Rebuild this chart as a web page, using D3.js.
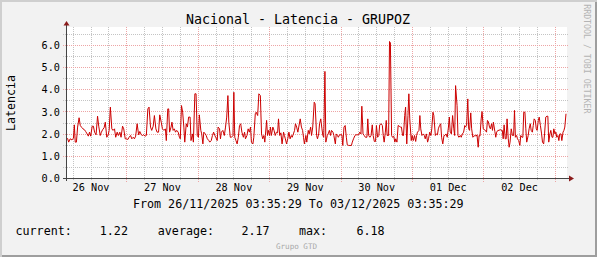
<!DOCTYPE html>
<html lang="en">

<head>
    <meta charset="UTF-8" />
    <title>Nacional - Latencia - GRUPOZ</title>
    <script src="https://d3js.org/d3.v7.min.js"></script>
    <style>
        body { margin: 0; background: #ffffff; }
        svg text { font-family: "DejaVu Sans Mono", monospace; fill: #000; }
    </style>
</head>

<body>
    <script>
        // chart texts
        var title = "Nacional - Latencia - GRUPOZ";
        var yLabel = "Latencia";
        var rangeText = "From 26/11/2025 03:35:29 To 03/12/2025 03:35:29";
        var footer = "Grupo GTD";
        var watermark = "RRDTOOL / TOBI OETIKER";

        // time window
        var startTime = new Date(2025, 10, 26, 3, 35, 29);
        var endTime = new Date(2025, 11, 3, 3, 35, 29);

        // axis labels
        var yTicks = [0, 1, 2, 3, 4, 5, 6];
        var xLabels = ["26 Nov", "27 Nov", "28 Nov", "29 Nov", "30 Nov", "01 Dec", "02 Dec"];

        // legend
        var legendNames = ["current:", "average:", "max:"];
        var legendValues = ["1.22", "2.17", "6.18"];

        // samples: hours after start time, and latency
        var hours = [
            0.5, 0.9, 1.4, 2.0, 2.5, 2.8, 3.1, 3.5, 3.9, 4.4,
            4.8, 5.3, 5.7, 6.2, 6.6, 7.1, 7.5, 7.9, 8.3, 8.8,
            9.2, 9.6, 10.1, 10.6, 11.0, 11.5, 11.9, 12.3, 12.8, 13.2,
            13.7, 14.2, 14.5, 14.9, 15.4, 15.8, 16.3, 16.7, 17.2, 17.6,
            18.1, 18.5, 19.0, 19.4, 19.9, 20.3, 20.8, 21.2, 21.7, 22.1,
            22.6, 23.0, 23.4, 23.9, 24.4, 24.8, 25.3, 25.7, 26.1, 26.6,
            27.0, 27.5, 27.9, 28.4, 28.8, 29.3, 29.7, 30.2, 30.6, 31.1,
            31.5, 32.0, 32.4, 32.9,
            33.4, 33.7, 34.2, 34.5, 34.8, 35.3, 35.6, 36.0, 36.4, 36.8,
            37.2, 37.7, 38.1, 38.4, 38.8, 39.2, 39.6, 39.9, 40.4, 40.8,
            41.2, 41.7, 42.0, 42.5, 42.8, 43.3, 43.7, 44.1, 44.5, 44.8,
            45.3, 45.6, 46.0, 46.3, 46.8, 47.1, 47.5, 48.0, 48.3, 48.8,
            49.2, 49.6, 50.0, 50.3, 50.8, 51.1, 51.6, 51.9, 52.2, 52.7,
            53.2, 53.6, 54.0, 54.4, 54.7, 55.2, 55.6, 56.1, 56.4, 56.7,
            57.1, 57.5, 57.9, 58.3, 58.7, 59.1, 59.6, 60.0, 60.3, 60.8,
            61.2, 61.6, 62.0, 62.3, 62.8, 63.1, 63.6, 63.9, 64.4, 64.8,
            65.3, 65.7, 66.1, 66.5, 66.8,
            67.0, 67.4, 67.7, 68.0, 68.4, 68.7, 69.0, 69.5, 69.9, 70.3,
            70.7, 71.1, 71.4, 71.8, 72.2, 72.6, 73.1, 73.4, 73.7, 74.1,
            74.5, 74.9, 75.3, 75.7, 76.0, 76.4, 76.8, 77.1, 77.5, 77.9,
            78.2, 78.7, 79.1, 79.5, 79.8, 80.1, 80.6, 80.9, 81.4, 81.7,
            82.2, 82.5, 82.9, 83.4, 83.7, 84.2, 84.5, 84.9, 85.2, 85.6,
            86.0, 86.3, 86.6, 87.0, 87.3, 87.8, 88.1, 88.5, 88.9, 89.2,
            89.7, 90.0, 90.5, 90.8, 91.2, 91.5, 91.9, 92.4, 92.7, 93.0,
            93.4, 93.8, 94.2, 94.5, 95.0, 95.4, 95.9, 96.2, 96.6, 97.1,
            97.4, 97.9, 98.3, 98.7, 99.1, 99.4, 99.8, 100.2, 100.6,
            101.1, 101.4, 101.7, 102.1, 102.5, 102.9, 103.2, 103.6, 104.0, 104.3,
            104.7, 105.1, 105.4, 105.9, 106.3, 106.6, 106.9, 107.3, 107.6, 107.9,
            108.4, 108.7, 109.0, 109.4, 109.7, 110.1, 110.5, 110.8, 111.2, 111.6,
            112.0, 112.3, 112.7, 113.1, 113.4, 113.8, 114.1, 114.5, 114.9, 115.2,
            115.5, 116.0, 116.3, 116.7, 117.1, 117.5, 117.8, 118.1, 118.6, 118.9,
            119.2, 119.6, 120.1, 120.4, 120.7, 121.1, 121.5, 121.8, 122.2, 122.6,
            122.9, 123.3, 123.6, 124.1, 124.4, 124.8, 125.1, 125.5, 125.9, 126.2,
            126.6, 127.0, 127.3, 127.7, 128.1, 128.5, 128.8, 129.1, 129.5, 129.9,
            130.3, 130.6, 130.9, 131.4, 131.7, 132.0, 132.5, 132.8, 133.2, 133.6,
            134.0,
            134.2, 134.6, 135.0, 135.3, 135.6, 136.0, 136.3, 136.7, 137.0, 137.5,
            137.8, 138.1, 138.5, 138.8, 139.1, 139.5, 139.8, 140.2, 140.5, 140.9,
            141.3, 141.6, 141.9, 142.3, 142.6, 143.0, 143.3, 143.6, 144.1, 144.4,
            144.7, 145.1, 145.5, 145.9, 146.2, 146.6, 146.9, 147.2, 147.6, 147.9,
            148.2, 148.6, 148.9, 149.2, 149.6, 150.0, 150.4, 150.7, 151.0, 151.4,
            151.7, 152.1, 152.5, 152.8, 153.2, 153.5, 153.8, 154.2, 154.5, 154.8,
            155.3, 155.6, 156.0, 156.3, 156.7, 157.0, 157.3, 157.7, 158.0, 158.3,
            158.7, 159.0, 159.4, 159.8, 160.1, 160.5, 160.8, 161.2, 161.6, 161.9,
            162.2, 162.6, 162.9, 163.3, 163.6, 163.9, 164.3, 164.6, 164.9, 165.3,
            165.6, 165.9, 166.3, 166.6, 167.0, 167.3, 167.6, 168.0
        ];

        var latency = [
            1.82, 1.64, 1.79, 1.74, 1.82, 2.42, 1.64, 1.64, 2.32, 2.74,
            2.39, 2.30, 2.24, 2.20, 2.12, 2.01, 1.91, 2.09, 1.91, 2.36,
            2.36, 2.09, 1.97, 2.81, 2.36, 1.94, 2.09, 2.20, 2.29, 2.54,
            1.86, 1.97, 2.17, 3.22, 2.24, 2.17, 2.24, 1.86, 2.09, 1.94,
            2.09, 1.86, 2.36, 2.24, 1.79, 1.79, 1.76, 1.86, 1.94, 1.79,
            1.86, 1.79, 1.91, 2.47, 1.97, 2.12, 1.97, 1.94, 1.97, 1.91,
            1.94, 3.14, 3.22, 2.32, 2.17, 2.36, 2.84, 2.24, 2.09, 2.09,
            2.87, 2.54, 2.24, 2.17,
            2.24, 1.71, 3.14, 3.14, 2.09, 2.32, 2.54, 2.17, 2.24, 2.09,
            2.17, 2.09, 1.86, 1.79, 3.29, 2.99, 2.32, 1.64, 2.47, 2.32,
            2.77, 2.77, 1.71, 2.01, 1.64, 3.82, 3.82, 1.94, 1.86, 2.87,
            2.17, 2.01, 1.56, 2.09, 2.01, 1.94, 1.79, 1.71, 1.64, 1.71,
            1.94, 2.09, 1.94, 1.86, 1.71, 2.32, 2.24, 1.79, 2.09, 2.17,
            1.94, 2.32, 2.77, 3.74, 2.54, 1.86, 1.86, 1.94, 3.89, 1.86,
            1.71, 1.56, 1.86, 2.39, 2.47, 2.09, 1.86, 2.09, 1.79, 1.94,
            2.24, 2.09, 2.32, 1.64, 1.56, 1.86, 2.92, 2.99, 2.84, 3.82,
            3.74, 2.01, 1.79, 1.94, 1.64,
            1.94, 2.62, 1.94, 2.17, 1.94, 2.32, 1.94, 2.32, 2.17, 1.94,
            2.09, 2.06, 2.69, 1.94, 2.06, 1.56, 2.09, 1.94, 1.79, 1.56,
            1.79, 2.09, 1.79, 1.94, 1.86, 2.01, 2.17, 2.47, 2.32, 2.09,
            2.32, 2.69, 2.32, 2.17, 1.86, 1.56, 1.94, 1.64, 2.17, 2.01,
            2.32, 1.94, 2.32, 3.44, 3.37, 1.94, 1.79, 2.01, 2.47, 2.69,
            2.24, 1.94, 1.86, 4.83, 1.64, 1.94, 2.01, 2.17, 1.94, 2.17,
            2.09, 1.94, 1.56, 2.01, 1.94, 1.86, 1.97, 1.97, 1.97, 1.49,
            2.32, 2.39, 1.86, 1.52, 1.49, 1.49, 1.49, 1.64, 1.79, 1.94,
            1.97, 1.97, 1.97, 2.09, 2.01, 3.26, 2.01, 1.94, 1.86,
            1.86, 2.69, 1.94, 1.86, 1.94, 2.42, 1.94, 1.67, 1.67, 2.39,
            1.86, 1.94, 2.42, 2.47, 2.39, 1.94, 1.64, 2.09, 2.62, 1.94,
            1.94, 6.18, 6.12, 1.94, 1.86, 1.91, 1.64, 1.79, 1.64, 2.39,
            2.36, 2.32, 2.32, 1.94, 1.94, 2.84, 3.22, 1.56, 2.84, 3.82,
            2.69, 1.71, 1.94, 1.71, 1.94, 1.67, 1.94, 2.09, 2.17, 2.84,
            2.24, 1.94, 2.01, 1.94, 1.79, 2.01, 1.64, 1.79, 2.09, 1.94,
            2.24, 2.99, 2.84, 1.94, 2.01, 1.97, 2.24, 2.39, 2.47, 1.86,
            1.56, 1.94, 1.94, 2.01, 1.86, 2.32, 2.77, 2.09, 2.01, 2.84,
            2.24, 1.94, 4.19, 3.29, 1.94, 1.86, 1.94, 1.86, 2.01, 2.09,
            2.39,
            2.32, 2.39, 3.59, 2.24, 2.17, 2.96, 2.24, 1.86, 1.91, 1.94,
            1.91, 1.97, 1.41, 1.94, 1.91, 2.69, 3.02, 2.24, 2.21, 2.17,
            2.09, 2.62, 2.57, 2.32, 2.24, 2.47, 2.17, 2.54, 2.12, 1.86,
            2.09, 2.17, 2.17, 2.21, 2.17, 2.17, 1.79, 2.42, 1.79, 1.79,
            2.69, 1.79, 1.41, 1.64, 2.24, 1.94, 1.94, 3.07, 1.86, 1.94,
            1.79, 1.71, 1.49, 1.94, 1.86, 1.86, 2.99, 2.99, 2.24, 1.64,
            1.94, 2.24, 2.47, 2.17, 2.09, 2.39, 2.69, 2.62, 2.24, 2.17,
            2.62, 2.77, 2.39, 2.01, 1.64, 1.56, 2.01, 2.77, 2.81, 2.81,
            1.64, 2.01, 2.17, 1.86, 1.86, 2.24, 2.01, 2.09, 1.86, 1.94,
            1.71, 2.01, 2.01, 1.71, 2.09, 2.17, 2.32, 2.92
        ];

        var w = 597;
        var h = 257;

        var svg = d3.select("body")
            .append("svg")
            .attr("width", w)
            .attr("height", h);

        // background and shaded frame
        svg.append("rect").attr("width", w).attr("height", h).attr("fill", "#f2f2f2");
        svg.append("path").attr("d", "M0,0H" + w + "V2H2V" + h + "H0Z").attr("fill", "#cfcfcf");
        svg.append("path").attr("d", "M" + w + "," + h + "H2V" + (h - 2) + "H" + (w - 2) + "V2H" + w + "Z").attr("fill", "#9e9e9e");

        var xScale = d3.scaleTime()
            .domain([startTime, endTime])
            .range([66, 566]);

        var yScale = d3.scaleLinear()
            .domain([0, 6.8])
            .range([178.5, 27.74]);

        function crisp(v) { return Math.floor(v) + 0.5; }

        // white canvas
        svg.append("rect")
            .attr("x", 66).attr("y", 27)
            .attr("width", 501).attr("height", 152)
            .attr("fill", "#ffffff");

        var grid = svg.append("g").attr("stroke-dasharray", "1,1").attr("stroke-width", 1);

        // minor vertical grid every 6 hours
        var minorTimes = d3.timeHour.every(6).range(startTime, endTime)
            .filter(function (d) { return d.getHours() !== 0; });
        grid.selectAll(".vminor")
            .data(minorTimes)
            .enter()
            .append("line")
            .attr("x1", function (d) { return crisp(xScale(d)); })
            .attr("x2", function (d) { return crisp(xScale(d)); })
            .attr("y1", 27).attr("y2", 181)
            .attr("stroke", "#c4c4c4");

        // minor horizontal grid
        var minorY = d3.range(0.5, 6.6, 1);
        grid.selectAll(".hminor")
            .data(minorY)
            .enter()
            .append("line")
            .attr("x1", 63).attr("x2", 569)
            .attr("y1", function (d) { return crisp(yScale(d)); })
            .attr("y2", function (d) { return crisp(yScale(d)); })
            .attr("stroke", "#c4c4c4");

        // major vertical grid at midnight
        var dayTimes = d3.timeDay.range(startTime, endTime);
        grid.selectAll(".vmajor")
            .data(dayTimes)
            .enter()
            .append("line")
            .attr("x1", function (d) { return crisp(xScale(d)); })
            .attr("x2", function (d) { return crisp(xScale(d)); })
            .attr("y1", 27).attr("y2", 182)
            .attr("stroke", "#eda5a5");

        // major horizontal grid
        grid.selectAll(".hmajor")
            .data(yTicks)
            .enter()
            .append("line")
            .attr("x1", 63).attr("x2", 569)
            .attr("y1", function (d) { return crisp(yScale(d)); })
            .attr("y2", function (d) { return crisp(yScale(d)); })
            .attr("stroke", "#eda5a5");

        // latency line
        var points = hours.map(function (hr, i) {
            return { t: new Date(startTime.getTime() + hr * 3600000), v: latency[i] };
        });

        var line = d3.line()
            .x(function (d) { return xScale(d.t); })
            .y(function (d) { return yScale(d.v); });

        svg.append("path")
            .datum(points)
            .attr("d", line)
            .attr("fill", "none")
            .attr("stroke", "#cc0000")
            .attr("stroke-width", 1);

        // axes
        svg.append("line")
            .attr("x1", 66.5).attr("x2", 66.5)
            .attr("y1", 181).attr("y2", 24)
            .attr("stroke", "#444444");
        svg.append("line")
            .attr("x1", 63).attr("x2", 570)
            .attr("y1", 178.5).attr("y2", 178.5)
            .attr("stroke", "#444444");

        // arrows
        svg.append("path")
            .attr("d", "M63.5,25.5L66.5,21L69.5,25.5Z")
            .attr("fill", "#8b1c1c");
        svg.append("path")
            .attr("d", "M569,175.5L574,178.5L569,181.5Z")
            .attr("fill", "#8b1c1c");

        // y tick labels
        svg.selectAll(".ylab")
            .data(yTicks)
            .enter()
            .append("text")
            .attr("x", 60)
            .attr("y", function (d) { return yScale(d) + 3.6; })
            .attr("text-anchor", "end")
            .style("font-size", "10.2px")
            .text(function (d) { return d3.format(".1f")(d); });

        // x labels at noon
        svg.selectAll(".xlab")
            .data(xLabels)
            .enter()
            .append("text")
            .attr("x", function (d, i) { return xScale(new Date(2025, 10, 26 + i, 12, 0, 0)); })
            .attr("y", 191)
            .attr("text-anchor", "middle")
            .style("font-size", "10.2px")
            .text(function (d) { return d; });

        // title
        svg.append("text")
            .attr("x", 298)
            .attr("y", 23.5)
            .attr("text-anchor", "middle")
            .style("font-size", "13.3px")
            .text(title);

        // y axis title
        svg.append("text")
            .attr("transform", "translate(15.2,103) rotate(-90)")
            .attr("text-anchor", "middle")
            .style("font-size", "11.6px")
            .text(yLabel);

        // period
        svg.append("text")
            .attr("x", 298.3)
            .attr("y", 207.5)
            .attr("text-anchor", "middle")
            .style("font-size", "11.7px")
            .text(rangeText);

        // legend
        var nameX = [15.5, 157.8, 299];
        var valueX = [99.8, 241.4, 356.4];
        legendNames.forEach(function (name, i) {
            svg.append("text")
                .attr("x", nameX[i]).attr("y", 235.3)
                .style("font-size", "11.7px")
                .text(name);
            svg.append("text")
                .attr("x", valueX[i]).attr("y", 235.3)
                .style("font-size", "11.7px")
                .text(legendValues[i]);
        });

        // footer
        svg.append("text")
            .attr("x", 296.5)
            .attr("y", 248.7)
            .attr("text-anchor", "middle")
            .style("font-size", "7.6px")
            .style("fill", "#a8a8a8")
            .text(footer);

        // rrdtool watermark
        svg.append("text")
            .attr("transform", "translate(584.3,4.2) rotate(90)")
            .style("font-size", "8.25px")
            .style("fill", "#b4b4b4")
            .text(watermark);
    </script>
</body>

</html>
